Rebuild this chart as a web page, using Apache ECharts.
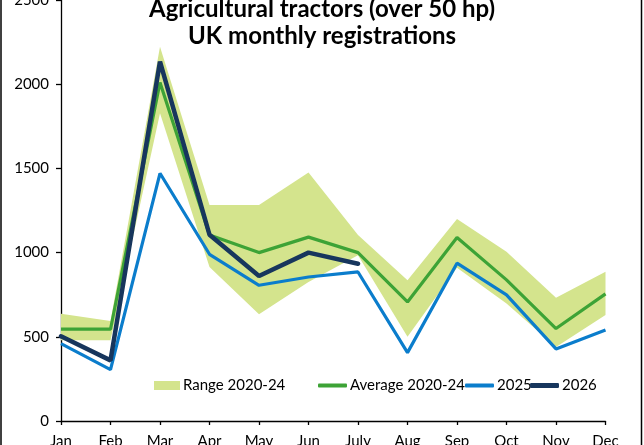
<!DOCTYPE html>
<html>
<head>
<meta charset="utf-8">
<script src="https://cdn.jsdelivr.net/npm/echarts@6/dist/echarts.min.js"></script>
<style>
html,body{margin:0;padding:0;background:#fff;}
#c{width:644px;height:445px;}
</style>
</head>
<body>
<div id="c"></div>
<script>
var months = ['Jan','Feb','Mar','Apr','May','Jun','July','Aug','Sep','Oct','Nov','Dec'];
var rangeMin = [479, 479, 1827, 915, 634, 825, 985, 500, 910, 698, 440, 629];
var rangeMax = [637, 594, 2223, 1283, 1283, 1475, 1104, 836, 1200, 1005, 732, 886];
var average = [545, 545, 2010, 1105, 1000, 1092, 1000, 707, 1090, 838, 549, 755];
var y2025 = [459, 305, 1471, 990, 806, 855, 885, 406, 937, 749, 428, 541];
var y2026 = [503, 360, 2134, 1106, 861, 1000, 934];
var yTicks = [0, 500, 1000, 1500, 2000, 2500];

var rangeSpan = rangeMax.map(function(v, i){ return v - rangeMin[i]; });

var FONT = 'Lato';
var chart = echarts.init(document.getElementById('c'), null, {renderer:'canvas'});

function legendAt(left, name, icon, w, h){
  return {
    left: left, top: 378, padding: 0, itemWidth: w, itemHeight: h, icon: icon,
    data: [{name: name, icon: icon}],
    selectedMode: false,
    textStyle: {fontFamily: FONT, fontSize: 15, color: '#000', padding: [0,0,0,-2]}
  };
}

chart.setOption({
  animation: false,
  backgroundColor: '#fff',
  title: {
    text: 'Agricultural tractors (over 50 hp)\nUK monthly registrations',
    left: 'center', top: -9,
    textStyle: {fontFamily: FONT, fontWeight: 'bold', fontSize: 24, lineHeight: 27, color: '#000'}
  },
  legend: [
    legendAt(154, 'Range 2020-24', 'rect', 26, 9),
    legendAt(318, 'Average 2020-24', 'roundRect', 29, 4),
    legendAt(465, '2025', 'roundRect', 29, 4),
    legendAt(530, '2026', 'roundRect', 29, 5)
  ],
  grid: {left: 61, right: 38.5, top: 0, bottom: 24, containLabel: false, outerBoundsMode: 'none'},
  xAxis: {
    type: 'category', data: months, boundaryGap: false,
    axisLine: {lineStyle: {color: '#000', width: 1.3}},
    axisTick: {alignWithLabel: true, length: 4, lineStyle: {color: '#000', width: 1.3}},
    axisLabel: {fontFamily: FONT, fontSize: 15, color: '#000', margin: 13}
  },
  yAxis: {
    type: 'value', min: yTicks[0], max: yTicks[yTicks.length-1], interval: 500,
    axisLine: {show: true, lineStyle: {color: '#000', width: 1.3}},
    axisTick: {show: true, length: 5, lineStyle: {color: '#000', width: 1.3}},
    splitLine: {show: false},
    axisLabel: {fontFamily: FONT, fontSize: 15, color: '#000', margin: 12,
      formatter: function(v){ return String(v); }}
  },
  graphic: [
    {type: 'line', shape: {x1: 1, y1: 0, x2: 1, y2: 445}, style: {stroke: '#000', lineWidth: 1.5}},
    {type: 'line', shape: {x1: 641.5, y1: 0, x2: 641.5, y2: 445}, style: {stroke: '#000', lineWidth: 1.5}}
  ],
  series: [
    {name: 'rangeBase', type: 'line', stack: 'r', data: rangeMin, symbol: 'none',
     lineStyle: {width: 0, opacity: 0}, silent: true, z: 1},
    {name: 'Range 2020-24', type: 'line', stack: 'r', data: rangeSpan, symbol: 'none',
     itemStyle: {color: '#d4e48d'}, lineStyle: {width: 0, opacity: 0},
     areaStyle: {color: '#d4e48d', opacity: 1}, z: 1},
    {name: 'Average 2020-24', type: 'line', data: average, symbol: 'none',
     itemStyle: {color: '#3da336'}, lineStyle: {color: '#3da336', width: 3.2}, z: 3},
    {name: '2025', type: 'line', data: y2025, symbol: 'none',
     itemStyle: {color: '#0b7dcc'}, lineStyle: {color: '#0b7dcc', width: 3.2}, z: 4},
    {name: '2026', type: 'line', data: y2026, symbol: 'none',
     itemStyle: {color: '#17365d'}, lineStyle: {color: '#17365d', width: 4.5, cap: 'round'}, z: 5}
  ]
});
</script>
</body>
</html>
